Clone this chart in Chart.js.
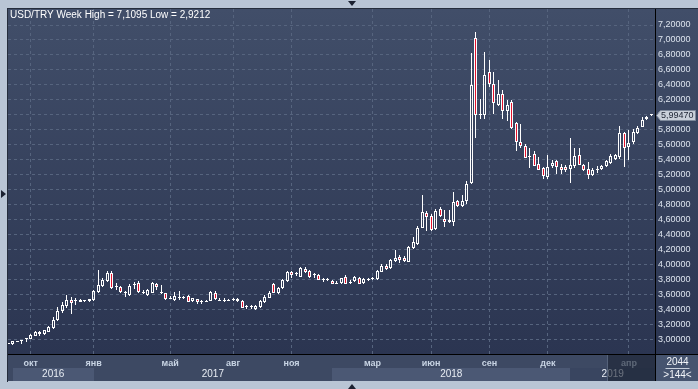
<!DOCTYPE html>
<html>
<head>
<meta charset="utf-8">
<script src="https://cdn.jsdelivr.net/npm/chart.js@4/dist/chart.umd.min.js"></script>
<style>
  html, body { margin: 0; padding: 0; background: #b9c5d5; }
  #wrap { position: relative; width: 698px; height: 389px; }
</style>
</head>
<body>
<div id="wrap"><canvas id="chart" width="698" height="389"></canvas></div>
<script>
// --- weekly USD/TRY candles (index 0 = first week shown) ---
const opens = [2.94, 2.94, 2.965, 2.975, 2.995, 3.00, 3.045, 3.065, 3.07, 3.10,
  3.145, 3.25, 3.37, 3.44, 3.52, 3.505, 3.50, 3.51, 3.505, 3.52,
  3.635, 3.71, 3.77, 3.88, 3.69, 3.70, 3.62, 3.59, 3.72, 3.745,
  3.62, 3.595, 3.62, 3.735, 3.62, 3.61, 3.54, 3.52, 3.555, 3.55,
  3.58, 3.505, 3.53, 3.49, 3.50, 3.515, 3.62, 3.515, 3.515, 3.515,
  3.52, 3.535, 3.51, 3.43, 3.425, 3.40, 3.425, 3.49, 3.555, 3.735,
  3.615, 3.68, 3.77, 3.89, 3.865, 3.835, 3.94, 3.915, 3.855, 3.855,
  3.79, 3.785, 3.775, 3.74, 3.745, 3.835, 3.755, 3.77, 3.82, 3.75,
  3.795, 3.805, 3.80, 3.90, 3.98, 3.945, 4.04, 4.10, 4.09, 4.035,
  4.215, 4.265, 4.49, 4.69, 4.64, 4.475, 4.74, 4.60, 4.59, 4.57,
  4.85, 4.775, 4.84, 5.09, 7.02, 5.995, 6.00, 6.565, 6.41, 6.13,
  6.28, 6.045, 6.175, 5.885, 5.64, 5.585, 5.435, 5.47, 5.34, 5.285,
  5.17, 5.31, 5.375, 5.30, 5.295, 5.275, 5.32, 5.465, 5.33, 5.27,
  5.195, 5.255, 5.27, 5.31, 5.35, 5.41, 5.44, 5.755, 5.575, 5.63,
  5.755, 5.84, 5.94, 5.99];
const highs = [2.95, 2.975, 2.98, 2.99, 3.01, 3.07, 3.105, 3.11, 3.125, 3.17,
  3.29, 3.43, 3.49, 3.59, 3.56, 3.545, 3.54, 3.52, 3.54, 3.65,
  3.93, 3.82, 3.91, 3.91, 3.755, 3.71, 3.64, 3.74, 3.76, 3.77,
  3.65, 3.67, 3.76, 3.745, 3.72, 3.62, 3.57, 3.63, 3.64, 3.57,
  3.59, 3.55, 3.535, 3.52, 3.52, 3.64, 3.64, 3.545, 3.55, 3.54,
  3.55, 3.545, 3.52, 3.455, 3.45, 3.46, 3.52, 3.59, 3.64, 3.75,
  3.69, 3.80, 3.905, 3.905, 3.89, 3.965, 3.97, 3.93, 3.885, 3.87,
  3.81, 3.81, 3.785, 3.77, 3.815, 3.85, 3.79, 3.84, 3.83, 3.81,
  3.82, 3.825, 3.925, 4.00, 4.01, 4.07, 4.19, 4.12, 4.11, 4.24,
  4.37, 4.51, 4.93, 4.71, 4.67, 4.74, 4.77, 4.73, 4.73, 4.97,
  4.865, 4.925, 5.11, 6.83, 7.1095, 6.21, 6.84, 6.735, 6.565, 6.47,
  6.33, 6.20, 6.20, 5.90, 5.875, 5.61, 5.55, 5.52, 5.44, 5.30,
  5.46, 5.40, 5.39, 5.34, 5.33, 5.695, 5.56, 5.55, 5.345, 5.365,
  5.29, 5.32, 5.33, 5.395, 5.475, 5.48, 5.85, 5.775, 5.79, 5.81,
  5.85, 5.965, 5.985, 6.00];
const lows = [2.935, 2.9212, 2.955, 2.935, 2.96, 2.995, 3.035, 3.04, 3.05, 3.09,
  3.14, 3.24, 3.35, 3.41, 3.34, 3.46, 3.49, 3.50, 3.50, 3.515,
  3.62, 3.70, 3.76, 3.67, 3.65, 3.615, 3.565, 3.58, 3.67, 3.61,
  3.60, 3.58, 3.61, 3.655, 3.605, 3.525, 3.53, 3.51, 3.52, 3.535,
  3.49, 3.495, 3.465, 3.475, 3.495, 3.505, 3.525, 3.505, 3.50, 3.505,
  3.505, 3.495, 3.415, 3.40, 3.40, 3.385, 3.42, 3.485, 3.55, 3.61,
  3.60, 3.675, 3.765, 3.81, 3.84, 3.83, 3.885, 3.82, 3.82, 3.785,
  3.765, 3.77, 3.73, 3.73, 3.74, 3.73, 3.735, 3.765, 3.73, 3.735,
  3.78, 3.795, 3.795, 3.89, 3.925, 3.94, 4.03, 4.02, 4.025, 4.03,
  4.21, 4.255, 4.48, 4.44, 4.45, 4.46, 4.63, 4.495, 4.55, 4.51,
  4.765, 4.765, 4.80, 5.08, 5.69, 5.945, 5.945, 6.375, 6.01, 6.12,
  5.945, 5.91, 5.81, 5.52, 5.56, 5.415, 5.29, 5.315, 5.255, 5.14,
  5.14, 5.285, 5.205, 5.21, 5.24, 5.085, 5.285, 5.325, 5.245, 5.14,
  5.185, 5.225, 5.26, 5.30, 5.34, 5.395, 5.405, 5.30, 5.395, 5.61,
  5.74, 5.83, 5.93, 5.985];
const closes = [2.945, 2.97, 2.97, 2.985, 3.005, 3.06, 3.095, 3.10, 3.115, 3.16,
  3.26, 3.37, 3.45, 3.52, 3.48, 3.515, 3.525, 3.515, 3.53, 3.64,
  3.72, 3.79, 3.88, 3.68, 3.70, 3.625, 3.625, 3.71, 3.73, 3.635,
  3.63, 3.655, 3.745, 3.69, 3.63, 3.535, 3.55, 3.57, 3.565, 3.555,
  3.50, 3.545, 3.49, 3.51, 3.515, 3.63, 3.535, 3.525, 3.525, 3.52,
  3.525, 3.505, 3.42, 3.435, 3.43, 3.44, 3.505, 3.565, 3.62, 3.62,
  3.68, 3.79, 3.89, 3.85, 3.87, 3.955, 3.90, 3.825, 3.86, 3.79,
  3.795, 3.79, 3.735, 3.745, 3.81, 3.74, 3.76, 3.825, 3.74, 3.80,
  3.80, 3.81, 3.915, 3.98, 3.94, 4.055, 4.09, 4.06, 4.04, 4.23,
  4.30, 4.48, 4.695, 4.63, 4.46, 4.715, 4.64, 4.57, 4.56, 4.83,
  4.775, 4.845, 5.07, 6.40, 5.99, 6.00, 6.535, 6.41, 6.155, 6.28,
  6.045, 6.13, 5.82, 5.635, 5.585, 5.42, 5.44, 5.32, 5.265, 5.185,
  5.305, 5.35, 5.30, 5.255, 5.255, 5.33, 5.45, 5.33, 5.255, 5.195,
  5.255, 5.26, 5.315, 5.375, 5.45, 5.465, 5.755, 5.555, 5.62, 5.775,
  5.82, 5.93, 5.965, 5.9947];

// time axis: month labels sit on these week indices, year bands start on these
const monthTickIdx = [5, 19, 36, 50, 63, 81, 94, 107, 120, 138];
const monthTickLabels = ['окт', 'янв', 'май', 'авг', 'ноя', 'мар', 'июн', 'сен', 'дек', 'апр'];
const yearStartIdx = [1, 19, 72, 125];
const yearLabels = ['2016', '2017', '2018', '2019'];
const priceTicks = [3.0, 3.2, 3.4, 3.6, 3.8, 4.0, 4.2, 4.4, 4.6, 4.8, 5.0,
  5.2, 5.4, 5.6, 5.8, 6.0, 6.2, 6.4, 6.6, 6.8, 7.0, 7.2];

const FONT = "'Liberation Sans', Arial, sans-serif";
const fmt = (v, d) => v.toFixed(d).replace('.', ',');

const idx = closes.map((_, i) => i);
const bodies = idx.map(i => ({ x: i, y: [opens[i], closes[i]] }));
const wickUp = idx.map(i => ({ x: i, y: [Math.max(opens[i], closes[i]), highs[i]] }));
const wickDown = idx.map(i => ({ x: i, y: [lows[i], Math.min(opens[i], closes[i])] }));
const bodyFill = idx.map(i => closes[i] < opens[i] ? '#e3122d' : 'rgba(0,0,0,0)');

const hi = Math.max(...highs), lo = Math.min(...lows);

// --- backgrounds, frame and year band (under everything) ---
const backdrop = {
    id: 'backdrop',
    beforeDraw(chart) {
        const { ctx, chartArea: a, width } = chart;
        const xs = chart.scales.x;
        ctx.save();
        ctx.fillStyle = '#b9c5d5';
        ctx.fillRect(0, 0, chart.width, chart.height);

        const g = ctx.createLinearGradient(0, a.top, 0, a.bottom);
        g.addColorStop(0, '#414e69');
        g.addColorStop(1, '#2b3551');
        ctx.fillStyle = g;
        ctx.fillRect(a.left, a.top, width - a.left, a.bottom - a.top);

        // time axis rows
        ctx.fillStyle = '#3d4963';
        ctx.fillRect(a.left, a.bottom, a.right - a.left, 27);
        for (let k = 0; k < yearStartIdx.length; k++) {
            const x0 = Math.round(xs.getPixelForValue(yearStartIdx[k]));
            const x1 = k + 1 < yearStartIdx.length ? Math.round(xs.getPixelForValue(yearStartIdx[k + 1])) : a.right;
            ctx.fillStyle = k % 2 === 0 ? '#4b5874' : '#3d4963';
            if (k === 3) ctx.fillStyle = '#394560';
            ctx.fillRect(x0, a.bottom + 14, x1 - x0, 13);
        }
        // right lower box
        ctx.fillStyle = '#46546f';
        ctx.fillRect(a.right, a.bottom, width - a.right, 27);

        // dark edge of the panel
        ctx.fillStyle = '#252d3c';
        ctx.fillRect(a.left - 1, a.top - 1, width - a.left + 1, 1);
        ctx.fillRect(a.left - 1, a.top - 1, 1, a.bottom - a.top + 29);
        ctx.restore();
    },
    beforeDatasetsDraw(chart) {
        // snap candles to whole pixels so they stay crisp
        chart.data.datasets.forEach((ds, di) => {
            chart.getDatasetMeta(di).data.forEach(el => {
                el.x = Math.floor(el.x) + 0.5;
                const t = Math.round(Math.min(el.y, el.base));
                let b = Math.round(Math.max(el.y, el.base));
                if (di === 0 && b <= t) b = t + 1;
                el.y = t;
                el.base = b;
            });
        });
    }
};

// --- labels, separators, price tag, title (on top) ---
const overlay = {
    id: 'overlay',
    afterDraw(chart) {
        const { ctx, chartArea: a, width } = chart;
        const xs = chart.scales.x, ys = chart.scales.y;
        ctx.save();

        // year labels
        ctx.font = '10px ' + FONT;
        ctx.fillStyle = '#e8edf4';
        ctx.textAlign = 'center';
        ctx.textBaseline = 'middle';
        for (let k = 0; k < yearStartIdx.length; k++) {
            const x0 = xs.getPixelForValue(yearStartIdx[k]);
            const x1 = k + 1 < yearStartIdx.length ? xs.getPixelForValue(yearStartIdx[k + 1]) : a.right;
            ctx.fillText(yearLabels[k], (x0 + x1) / 2, a.bottom + 20);
        }

        // shaded window at the right end of the time axis
        const wx = Math.round(xs.getPixelForValue(133.2));
        ctx.fillStyle = 'rgba(28,35,52,0.62)';
        ctx.fillRect(wx, a.bottom + 1, a.right - wx, 26);
        ctx.fillStyle = '#55627a';
        ctx.fillRect(wx, a.bottom + 1, 1, 26);

        // black separators
        ctx.fillStyle = '#000000';
        ctx.fillRect(a.left, a.bottom, width - a.left, 1);
        ctx.fillRect(a.right, a.top, 1, a.bottom - a.top + 27);

        // bar count box
        ctx.fillStyle = '#f2f5f9';
        ctx.font = '10px ' + FONT;
        const cx = (a.right + width) / 2 + 1;
        ctx.fillText('2044', cx, a.bottom + 8);
        ctx.fillText('>' + closes.length + '<', cx, a.bottom + 21);
        ctx.fillStyle = '#c8d0dc';
        ctx.fillRect(cx - 12, a.bottom + 14, 24, 1);

        // last price tag
        const last = closes[closes.length - 1];
        const py = Math.round(ys.getPixelForValue(last)) + 0.5;
        ctx.beginPath();
        ctx.moveTo(a.right + 1.5, py);
        ctx.lineTo(a.right + 5.5, py - 5);
        ctx.lineTo(width - 2.5, py - 5);
        ctx.lineTo(width - 2.5, py + 5);
        ctx.lineTo(a.right + 5.5, py + 5);
        ctx.closePath();
        ctx.fillStyle = '#c9d0da';
        ctx.fill();
        ctx.strokeStyle = '#7f8a9c';
        ctx.lineWidth = 1;
        ctx.stroke();
        ctx.fillStyle = '#1c2333';
        ctx.font = '9px ' + FONT;
        ctx.textAlign = 'left';
        ctx.fillText(fmt(last, 5), a.right + 6, py + 0.5);

        // title
        ctx.fillStyle = '#ffffff';
        ctx.font = '10px ' + FONT;
        ctx.textBaseline = 'middle';
        ctx.fillText('USD/TRY Week High = ' + fmt(hi, 4) + ' Low = ' + fmt(lo, 4), a.left + 2, a.top + 6);

        // scroll arrows on the frame
        ctx.fillStyle = '#1b2131';
        ctx.beginPath(); ctx.moveTo(348, 1); ctx.lineTo(356, 1); ctx.lineTo(352, 6); ctx.fill();
        ctx.beginPath(); ctx.moveTo(1, 190); ctx.lineTo(1, 198); ctx.lineTo(6, 194); ctx.fill();
        ctx.beginPath(); ctx.moveTo(348, 389); ctx.lineTo(356, 389); ctx.lineTo(352, 384); ctx.fill();
        ctx.restore();
    }
};

new Chart(document.getElementById('chart'), {
    type: 'bar',
    data: {
        datasets: [
            { data: bodies, barThickness: 3, borderWidth: 1, borderColor: '#ffffff',
              backgroundColor: bodyFill, borderSkipped: false, minBarLength: 1 },
            { data: wickUp, barThickness: 1, borderWidth: 0, backgroundColor: '#ffffff' },
            { data: wickDown, barThickness: 1, borderWidth: 0, backgroundColor: '#ffffff' }
        ]
    },
    options: {
        responsive: false,
        animation: false,
        devicePixelRatio: 1,
        events: [],
        grouped: false,
        inflateAmount: 0,
        layout: { padding: { left: 8, top: 9, right: 0, bottom: 8 } },
        plugins: { legend: { display: false }, tooltip: { enabled: false } },
        scales: {
            x: {
                type: 'linear',
                min: -0.05,
                max: 143.8,
                offset: false,
                afterBuildTicks: s => { s.ticks = monthTickIdx.map(v => ({ value: v })); },
                afterFit: s => { s.height = 27; },
                grid: { color: '#56647e', drawTicks: false, offset: false },
                border: { display: false, dash: [3, 3] },
                ticks: {
                    autoSkip: false,
                    maxRotation: 0,
                    padding: 4,
                    color: '#c8d4e4',
                    font: { family: FONT, size: 9, weight: 'bold' },
                    callback: v => monthTickLabels[monthTickIdx.indexOf(v)] || ''
                }
            },
            y: {
                type: 'linear',
                position: 'right',
                min: 2.8,
                max: 7.414,
                afterBuildTicks: s => { s.ticks = priceTicks.map(v => ({ value: v })); },
                afterFit: s => { s.width = 43; },
                grid: { color: '#56647e', drawTicks: false },
                border: { display: false, dash: [3, 3] },
                ticks: {
                    padding: 3,
                    color: '#dde4ee',
                    font: { family: FONT, size: 9 },
                    callback: v => fmt(v, 5)
                }
            }
        }
    },
    plugins: [backdrop, overlay]
});
</script>
</body>
</html>
